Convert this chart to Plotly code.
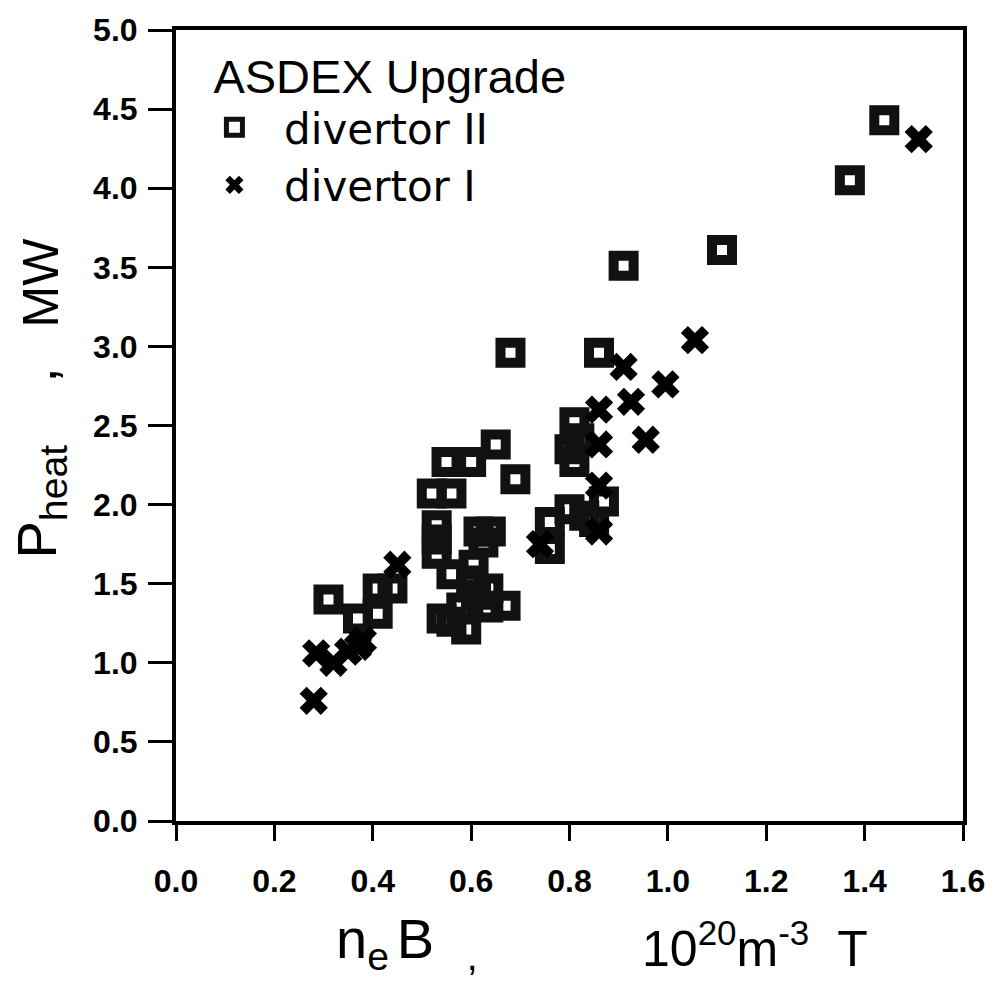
import plotly.graph_objects as go

# divertor II (open squares)
div2_x = [0.31, 0.37, 0.41, 0.41, 0.44, 0.52, 0.56, 0.55, 0.60, 0.65, 0.69, 0.68,
          0.53, 0.53, 0.53, 0.56, 0.605, 0.615, 0.64, 0.625, 0.54, 0.56, 0.58, 0.59,
          0.61, 0.635, 0.635, 0.67, 0.60, 0.76, 0.76, 0.80, 0.83, 0.85, 0.87, 0.80,
          0.81, 0.82, 0.81, 0.86, 0.91, 1.11, 1.37, 1.44]
div2_y = [1.40, 1.28, 1.31, 1.47, 1.47, 2.07, 2.07, 2.27, 2.27, 2.38, 2.16, 2.96,
          1.87, 1.78, 1.69, 1.56, 1.62, 1.83, 1.83, 1.76, 1.28, 1.26, 1.35, 1.21,
          1.43, 1.47, 1.35, 1.36, 1.52, 1.89, 1.72, 1.97, 1.93, 1.89, 2.02, 2.35,
          2.27, 2.42, 2.52, 2.96, 3.51, 3.61, 4.05, 4.43]

# divertor I (crosses)
div1_x = [0.28, 0.285, 0.32, 0.35, 0.37, 0.38, 0.45, 0.74, 0.86, 0.86, 0.86, 0.86,
          0.925, 0.91, 0.955, 0.995, 1.055, 1.51]
div1_y = [0.76, 1.06, 1.00, 1.07, 1.10, 1.14, 1.62, 1.75, 1.83, 2.12, 2.38, 2.60,
          2.65, 2.87, 2.41, 2.76, 3.04, 4.31]

x_ticks = [0.0, 0.2, 0.4, 0.6, 0.8, 1.0, 1.2, 1.4, 1.6]
x_tick_labels = ["0.0", "0.2", "0.4", "0.6", "0.8", "1.0", "1.2", "1.4", "1.6"]
y_ticks = [0.0, 0.5, 1.0, 1.5, 2.0, 2.5, 3.0, 3.5, 4.0, 4.5, 5.0]
y_tick_labels = ["0.0", "0.5", "1.0", "1.5", "2.0", "2.5", "3.0", "3.5", "4.0", "4.5", "5.0"]

NB = "\u00a0"
fig = go.Figure()
fig.add_trace(go.Scatter(
    x=div2_x, y=div2_y, mode="markers", name=NB * 2 + "divertor II",
    marker=dict(symbol="square-open", size=20, color="#111111",
                line=dict(width=10, color="#111111")),
))
fig.add_trace(go.Scatter(
    x=div1_x, y=div1_y, mode="markers", name=NB * 2 + "divertor I",
    marker=dict(symbol="x", size=25, color="#000000",
                line=dict(width=0)),
))

HELV = "Liberation Sans, Arial"
fig.update_layout(
    width=997, height=985,
    margin=dict(l=176, r=30, t=26, b=164),
    paper_bgcolor="white", plot_bgcolor="white",
    showlegend=True,
    legend=dict(
        x=0.045, y=0.997, xanchor="left", yanchor="top",
        bgcolor="rgba(0,0,0,0)", borderwidth=0,
        title=dict(text="ASDEX Upgrade", font=dict(family=HELV, size=47, color="black")),
        font=dict(family="DejaVu Sans", size=42, color="black"),
        itemwidth=36, tracegroupgap=0,
    ),
    xaxis=dict(
        range=[0, 1.6], tickvals=x_ticks, ticktext=x_tick_labels,
        showgrid=False, zeroline=False,
        showline=True, linewidth=4, linecolor="black", mirror=True,
        ticks="outside", ticklen=16, tickwidth=3, tickcolor="black",
        tickfont=dict(family=HELV, size=32, color="black", weight="bold"),
        ticklabelstandoff=13,
    ),
    yaxis=dict(
        range=[0, 5.0], tickvals=y_ticks, ticktext=y_tick_labels,
        showgrid=False, zeroline=False,
        showline=True, linewidth=4, linecolor="black", mirror=True,
        ticks="outside", ticklen=24, tickwidth=3, tickcolor="black",
        tickfont=dict(family=HELV, size=32, color="black", weight="bold"),
        ticklabelstandoff=4,
    ),
    annotations=[
        dict(text="P<sub>heat</sub>" + NB * 4 + ",",
             xref="paper", yref="paper", x=0, y=0.5, xanchor="center", yanchor="middle",
             xshift=-136, yshift=-38, textangle=-90, showarrow=False,
             font=dict(family=HELV, size=56, color="black")),
        dict(text="MW",
             xref="paper", yref="paper", x=0, y=0.5, xanchor="center", yanchor="middle",
             xshift=-136, yshift=143, textangle=-90, showarrow=False,
             font=dict(family=HELV, size=50, color="black")),
        dict(text="n<sub>e\u2009</sub>B<sub>" + NB * 3 + ",</sub>",
             xref="paper", yref="paper", x=0.5, y=0, xanchor="center", yanchor="middle",
             xshift=-163, yshift=-121, showarrow=False,
             font=dict(family=HELV, size=56, color="black")),
        dict(text="10<sup>20</sup>m<sup>-3</sup>" + NB * 2 + "T",
             xref="paper", yref="paper", x=0.5, y=0, xanchor="center", yanchor="middle",
             xshift=185, yshift=-124, showarrow=False,
             font=dict(family=HELV, size=50, color="black")),
    ],
)

fig.write_html("out.html")
